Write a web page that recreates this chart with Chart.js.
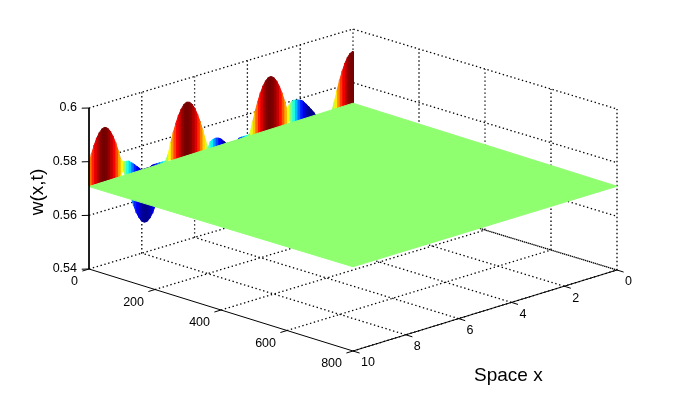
<!DOCTYPE html>
<html>
<head>
<meta charset="utf-8">
<title>w(x,t)</title>
<script src="https://cdn.jsdelivr.net/npm/chart.js@4/dist/chart.umd.min.js"></script>
<style>
  html, body { margin: 0; padding: 0; background: #fff; }
  canvas { display: block; }
</style>
</head>
<body>
<canvas id="surfaceChart" width="681" height="393"></canvas>
<script>
// axis ticks
const spaceTicks = [0, 2, 4, 6, 8, 10];
const timeTicks = [0, 200, 400, 600, 800];
const heightTicks = [0.54, 0.56, 0.58, 0.6];
const heightLabels = ['0.54', '0.56', '0.58', '0.6'];

// flat sheet corners, z at [x=10 t=0, x=0 t=0, x=0 t=800, x=10 t=800]
const sheetHeights = [0.5707, 0.5716, 0.5712, 0.5714];

// edge profile at t=0, x = 0, 0.1, 0.2 ... 10
const spaceGrid = [
  0, 0.1, 0.2, 0.3, 0.4, 0.5, 0.6, 0.7, 0.8, 0.9,
  1, 1.1, 1.2, 1.3, 1.4, 1.5, 1.6, 1.7, 1.8, 1.9,
  2, 2.1, 2.2, 2.3, 2.4, 2.5, 2.6, 2.7, 2.8, 2.9,
  3, 3.1, 3.2, 3.3, 3.4, 3.5, 3.6, 3.7, 3.8, 3.9,
  4, 4.1, 4.2, 4.3, 4.4, 4.5, 4.6, 4.7, 4.8, 4.9,
  5, 5.1, 5.2, 5.3, 5.4, 5.5, 5.6, 5.7, 5.8, 5.9,
  6, 6.1, 6.2, 6.3, 6.4, 6.5, 6.6, 6.7, 6.8, 6.9,
  7, 7.1, 7.2, 7.3, 7.4, 7.5, 7.6, 7.7, 7.8, 7.9,
  8, 8.1, 8.2, 8.3, 8.4, 8.5, 8.6, 8.7, 8.8, 8.9,
  9, 9.1, 9.2, 9.3, 9.4, 9.5, 9.6, 9.7, 9.8, 9.9, 10
];
const edgeValues = [
  0.5910, 0.5906, 0.5894, 0.5875, 0.5849, 0.5818, 0.5782, 0.5744, 0.5704, 0.5665,
  0.5627, 0.5592, 0.5563, 0.5539, 0.5522, 0.5512, 0.5510, 0.5517, 0.5531, 0.5552,
  0.5579, 0.5612, 0.5649, 0.5688, 0.5727, 0.5767, 0.5804, 0.5837, 0.5865, 0.5887,
  0.5902, 0.5909, 0.5909, 0.5900, 0.5884, 0.5861, 0.5832, 0.5798, 0.5760, 0.5721,
  0.5681, 0.5642, 0.5606, 0.5574, 0.5548, 0.5528, 0.5515, 0.5510, 0.5513, 0.5524,
  0.5542, 0.5567, 0.5598, 0.5633, 0.5671, 0.5711, 0.5751, 0.5789, 0.5824, 0.5854,
  0.5879, 0.5897, 0.5907, 0.5910, 0.5905, 0.5891, 0.5871, 0.5845, 0.5813, 0.5777,
  0.5737, 0.5697, 0.5658, 0.5621, 0.5587, 0.5558, 0.5535, 0.5520, 0.5511, 0.5511,
  0.5518, 0.5534, 0.5555, 0.5584, 0.5617, 0.5654, 0.5694, 0.5733, 0.5772, 0.5809,
  0.5842, 0.5869, 0.5890, 0.5904, 0.5910, 0.5908, 0.5897, 0.5880, 0.5856, 0.5826, 0.5792
];
// next row of the surface, shows above the sheet behind the blue parts
const nextRowValues = [
  0.571, 0.571, 0.571, 0.571, 0.571, 0.571, 0.571, 0.571, 0.571, 0.571,
  0.571, 0.571, 0.571, 0.571, 0.5712, 0.5729, 0.5743, 0.5757, 0.5769, 0.5782,
  0.5788, 0.5791, 0.5794, 0.5794, 0.5785, 0.571, 0.571, 0.571, 0.571, 0.571,
  0.571, 0.571, 0.571, 0.571, 0.571, 0.571, 0.571, 0.571, 0.571, 0.5717,
  0.5717, 0.5717, 0.5717, 0.5717, 0.571, 0.571, 0.571, 0.571, 0.5711, 0.5723,
  0.5734, 0.574, 0.5743, 0.5741, 0.5736, 0.571, 0.571, 0.571, 0.571, 0.571,
  0.571, 0.571, 0.571, 0.571, 0.571, 0.571, 0.571, 0.571, 0.571, 0.5715,
  0.5715, 0.5715, 0.5715, 0.5715, 0.5715, 0.5715, 0.5715, 0.571, 0.571, 0.571,
  0.5707, 0.5719, 0.5729, 0.574, 0.5748, 0.5757, 0.5759, 0.576, 0.571, 0.571,
  0.571, 0.571, 0.571, 0.571, 0.571, 0.571, 0.571, 0.571, 0.571, 0.571, 0.571
];

// view of the box, the chart scales run in these units
function project(x, t, z) {
  const a = t / 800, b = (10 - x) / 10, c = (z - 0.54) / 0.06;
  return { x: 264 * (a + b), y: 161 * c - 82 * a + 81 * b };
}

// the box sits a little lower at its far corner
function projectBox(x, t, z) {
  const p = project(x, t, z);
  const far = ((10 - x) / 10) * (1 - t / 800);
  return { x: p.x, y: p.y - 2 * far };
}

function jet(value) {
  const v = (value - 0.5505) / 0.04;
  const ch = d => Math.round(255 * Math.min(1, Math.max(0, 1.5 - Math.abs(4 * v - d))));
  return `rgb(${ch(3)},${ch(2)},${ch(1)})`;
}

function line(points, opts) {
  return Object.assign({
    data: points,
    showLine: true,
    pointRadius: 0,
    borderColor: '#000',
    borderWidth: 1,
    fill: false
  }, opts);
}

const gridStyle = { borderDash: [1.4, 2.6], borderWidth: 1.3, order: 4 };
const axisStyle = { order: 1 };
const zMin = heightTicks[0], zMax = heightTicks[heightTicks.length - 1];
const datasets = [];

// floor and walls
timeTicks.forEach(t => {
  if (t > 0) datasets.push(line([projectBox(10, t, zMin), projectBox(0, t, zMin), projectBox(0, t, zMax)], gridStyle));
});
spaceTicks.forEach(x => {
  if (x < 10) datasets.push(line([projectBox(x, 800, zMin), projectBox(x, 0, zMin), projectBox(x, 0, zMax)], gridStyle));
});
heightTicks.forEach(z => {
  datasets.push(line([projectBox(10, 0, z), projectBox(0, 0, z), projectBox(0, 800, z)], gridStyle));
});

// coloured edge of the surface, one filled strip per grid step
const lowest = spaceGrid.map((x, i) => Math.min(edgeValues[i], nextRowValues[i]));
const highest = spaceGrid.map((x, i) => Math.max(edgeValues[i], nextRowValues[i]));
for (let i = 0; i < spaceGrid.length - 1; i++) {
  const j = i + 1;
  const color = jet((edgeValues[i] + edgeValues[j]) / 2);
  datasets.push(line([project(spaceGrid[j], 0, highest[j]), project(spaceGrid[i], 0, highest[i])], {
    borderColor: color, backgroundColor: color, fill: '+1', order: 3
  }));
  datasets.push(line([project(spaceGrid[j], 0, lowest[j]), project(spaceGrid[i], 0, lowest[i])], {
    borderColor: color, order: 3
  }));
}
// columns over the joints so no seam shows between strips
spaceGrid.forEach((x, i) => {
  datasets.push(line([project(x, 0, lowest[i]), project(x, 0, highest[i])], {
    borderColor: jet(edgeValues[i]), borderWidth: 2, order: 3
  }));
});

// the sheet, filled between its upper and lower outline
const sheetColor = '#8fff70';
datasets.push(line([
  project(10, 0, sheetHeights[0]), project(0, 0, sheetHeights[1]), project(0, 800, sheetHeights[2])
], { borderColor: sheetColor, backgroundColor: sheetColor, fill: '+1', order: 2 }));
datasets.push(line([
  project(10, 0, sheetHeights[0]), project(10, 800, sheetHeights[3]), project(0, 800, sheetHeights[2])
], { borderColor: sheetColor, order: 2 }));

// solid axes and ticks
datasets.push(line([project(10, 0, zMax), project(10, 0, zMin), project(10, 800, zMin), project(0, 800, zMin)], axisStyle));
timeTicks.forEach(t => datasets.push(line([project(10, t, zMin), project(10.25, t, zMin)], axisStyle)));
spaceTicks.forEach(x => datasets.push(line([project(x, 800, zMin), project(x, 820, zMin)], axisStyle)));
heightTicks.forEach(z => datasets.push(line([project(10, 0, z), project(10.15, -10, z)], axisStyle)));

// tick labels and axis titles
const labelPlugin = {
  id: 'boxLabels',
  afterDraw(chart) {
    const ctx = chart.ctx;
    const sx = chart.scales.x, sy = chart.scales.y;
    const at = p => ({ x: sx.getPixelForValue(p.x), y: sy.getPixelForValue(p.y) });
    ctx.save();
    ctx.fillStyle = '#000';
    ctx.textBaseline = 'middle';
    ctx.font = '12.5px "Liberation Sans", Arial, sans-serif';

    ctx.textAlign = 'right';
    heightTicks.forEach((z, i) => {
      const p = at(project(10, 0, z));
      ctx.fillText(heightLabels[i], p.x - 12, p.y);
    });
    timeTicks.forEach(t => {
      const p = at(project(10, t, zMin));
      ctx.fillText(String(t), p.x - 11, p.y + 13);
    });

    ctx.textAlign = 'left';
    spaceTicks.forEach(x => {
      const p = at(project(x, 800, zMin));
      ctx.fillText(String(x), p.x + 8, p.y + 12);
    });

    ctx.font = '19px "Liberation Sans", Arial, sans-serif';
    ctx.fillText('Space x', 474, 376);
    ctx.translate(38, 192);
    ctx.rotate(-Math.PI / 2);
    ctx.textAlign = 'center';
    ctx.fillText('w(x,t)', 0, 0);
    ctx.restore();
  }
};

new Chart(document.getElementById('surfaceChart').getContext('2d'), {
  type: 'scatter',
  data: { datasets: datasets },
  options: {
    responsive: false,
    animation: false,
    events: [],
    layout: { padding: 0 },
    plugins: {
      legend: { display: false },
      tooltip: { enabled: false },
      title: { display: false }
    },
    scales: {
      x: { type: 'linear', display: false, min: -89, max: 592 },
      y: { type: 'linear', display: false, min: -124, max: 269 }
    }
  },
  plugins: [labelPlugin]
});
</script>
</body>
</html>
